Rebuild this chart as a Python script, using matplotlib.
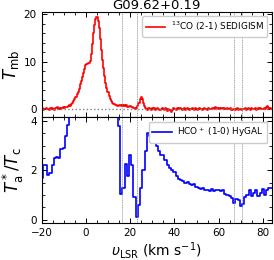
import numpy as np
import matplotlib
matplotlib.use('Agg')
import matplotlib.pyplot as plt
from matplotlib.ticker import MultipleLocator

source = 'G09.62+0.19'

# 13CO (2-1) SEDIGISM, 0.5 km/s channels starting at -20 km/s
co_tmb = [
    0.1, 0.2, -0.1, 0.0, 0.3, 0.1, 0.0, -0.2, 0.2, 0.1, 0.3, 0.0, -0.1, 0.2, 0.4, 0.1, 0.2, 0.0, 0.3, 0.2, 0.4,
    0.3, 0.5, 0.4, 0.6, 0.8, 0.7, 1.0, 1.3, 1.8, 2.2,
    2.6, 3.1, 3.7, 4.3, 5.2, 6.0, 6.8, 7.6, 8.5, 9.3,
    9.6, 9.8, 9.7, 10.1, 11.5, 13.8, 16.0, 17.8, 19.0, 19.3,
    18.6, 17.0, 14.8, 12.5, 10.4, 8.6, 7.0, 5.6, 4.5, 3.6,
    2.8, 2.2, 1.7, 1.4, 1.1, 1.0, 0.8, 0.9, 0.7, 0.8,
    0.9, 0.6, 0.8, 0.7, 0.9, 0.6, 0.8, 0.5, 0.7, 0.6,
    0.4, 0.5, 0.3, 0.2, 0.1, 0.3, 0.6, 1.2, 2.2, 2.6,
    2.2, 1.3, 0.6, 0.3, 0.1, -0.2, 0.2, 0.1, -0.1, 0.3,
    0.0, 0.2, -0.1, 0.1, 0.3, 0.0, -0.2, 0.1, 0.2, 0.0,
    -0.1, 0.2, 0.0, -0.3, 0.1, -0.2, -0.5, -0.1, 0.2, 0.0,
    0.1, -0.1, 0.2, 0.0, 0.3, 0.1, -0.2, 0.0, 0.2, -0.1,
    0.1, 0.3, 0.0, -0.2, 0.1, 0.2, 0.0, -0.1, 0.2, 0.1,
    -0.1, 0.0, 0.2, 0.1, -0.2, 0.1, 0.3, 0.0, 0.1, -0.1,
    0.2, 0.0, 0.1, 0.3, 0.2, 0.1, 0.4, 0.2, 0.3, 0.1,
    0.2, 0.0, 0.3, 0.1, 0.2, 0.0, 0.1, 0.3, 0.1, 0.0,
    0.2, -0.1, 0.1, 0.0, -0.2, 0.1, 0.2, -0.1, 0.0, 0.1,
    -0.2, 0.1, 0.0, 0.2, -0.1, 0.1, 0.3, 0.0, -0.1, 0.2,
    0.1, 0.0, 0.2, -0.1, 0.1, 0.3, 0.0, 0.2, 0.1, 0.0,
    0.2, 0.1, 0.4, 0.6, 0.3, 0.1, 0.2, 0.0,
]
co_v0, co_dv = -20.0, 0.5

# HCO+ (1-0) HyGAL, Ta*/Tc, 1 km/s channels starting at -20 km/s
hco_ratio = [
    1.7, 2.2, 2.2, 1.8, 1.9, 2.2, 2.5, 2.55, 2.5, 2.85,
    2.9, 3.4, 3.85, 4.4, 5.0, 5.6, 6.0, 6.5, 6.8, 7.0,
    7.2, 7.0, 6.8, 6.5, 6.2, 6.0, 5.8, 5.6, 5.5, 5.4,
    5.2, 5.0, 4.8, 4.6, 4.4, 3.8, 1.05, 1.3, 2.25, 1.75,
    2.6, 2.2, 0.9, 0.1, 0.6, 1.3, 2.0, 2.8, 3.5, 3.4,
    3.1, 3.2, 3.0, 2.8, 2.6, 2.6, 2.4, 2.2, 2.1, 2.0,
    1.95, 1.75, 1.65, 1.6, 1.55, 1.5, 1.52, 1.45, 1.42, 1.45,
    1.33, 1.3, 1.25, 1.3, 1.22, 1.2, 1.18, 1.25, 1.17, 1.2,
    1.22, 1.15, 1.2, 1.05, 1.0, 0.95, 0.88, 0.66, 0.82, 0.8,
    0.55, 0.62, 0.9, 1.0, 1.2, 0.95, 1.1, 1.2, 0.95, 1.1,
    1.25, 1.0, 1.2, 1.28, 1.3,
]
hco_v0, hco_dv = -20.0, 1.0

# velocity markers
vlines = [16.4, 23.2, 67.0, 70.6]

co_v = co_v0 + co_dv * np.arange(len(co_tmb))
hco_v = hco_v0 + hco_dv * np.arange(len(hco_ratio))

fig = plt.figure(figsize=(2.74, 2.6), dpi=100)
ax1 = fig.add_axes([0.152, 0.549, 0.840, 0.406])
ax2 = fig.add_axes([0.152, 0.141, 0.840, 0.408], sharex=ax1)

ax1.plot(co_v, co_tmb, color='red', lw=1.2, drawstyle='steps-mid', label=r'$^{13}$CO (2-1) SEDIGISM')
ax1.axhline(0, color='gray', ls=':', lw=1)
ax2.plot(hco_v, hco_ratio, color='blue', lw=1.2, drawstyle='steps-mid', label=r'HCO$^+$ (1-0) HyGAL')

for ax in (ax1, ax2):
    for v in vlines:
        ax.axvline(v, color='gray', ls='--', lw=0.5, dashes=(1.5, 1))
    ax.tick_params(which='both', direction='in', top=True, right=True, labelsize=7.5)
    ax.tick_params(which='major', length=3.5, width=0.7)
    ax.tick_params(which='minor', length=2, width=0.6)
    ax.xaxis.set_major_locator(MultipleLocator(20))
    ax.xaxis.set_minor_locator(MultipleLocator(5))
    for s in ax.spines.values():
        s.set_linewidth(0.8)
    ax.legend(loc='upper right', fontsize=6.4, handlelength=2.2, borderpad=0.4,
              handletextpad=0.6, framealpha=1, edgecolor='#cccccc')

ax1.set_xlim(-20, 84)
ax1.set_ylim(-1.7, 20.5)
ax1.yaxis.set_major_locator(MultipleLocator(10))
ax1.yaxis.set_minor_locator(MultipleLocator(2))
ax1.tick_params(labelbottom=False)
ax1.set_ylabel(r'$T_{\rm mb}$', fontsize=12, labelpad=2)
ax1.set_title(source, fontsize=9.5, pad=1)

ax2.set_ylim(-0.15, 4.15)
ax2.yaxis.set_major_locator(MultipleLocator(2))
ax2.yaxis.set_minor_locator(MultipleLocator(0.5))
ax2.set_ylabel(r'$T_{\rm a}^*/T_{\rm c}$', fontsize=12, labelpad=3)
ax2.set_xlabel(r'$\upsilon_{\rm LSR}$ (km s$^{-1}$)', fontsize=10, labelpad=1)

fig.savefig('out.png', dpi=100)
